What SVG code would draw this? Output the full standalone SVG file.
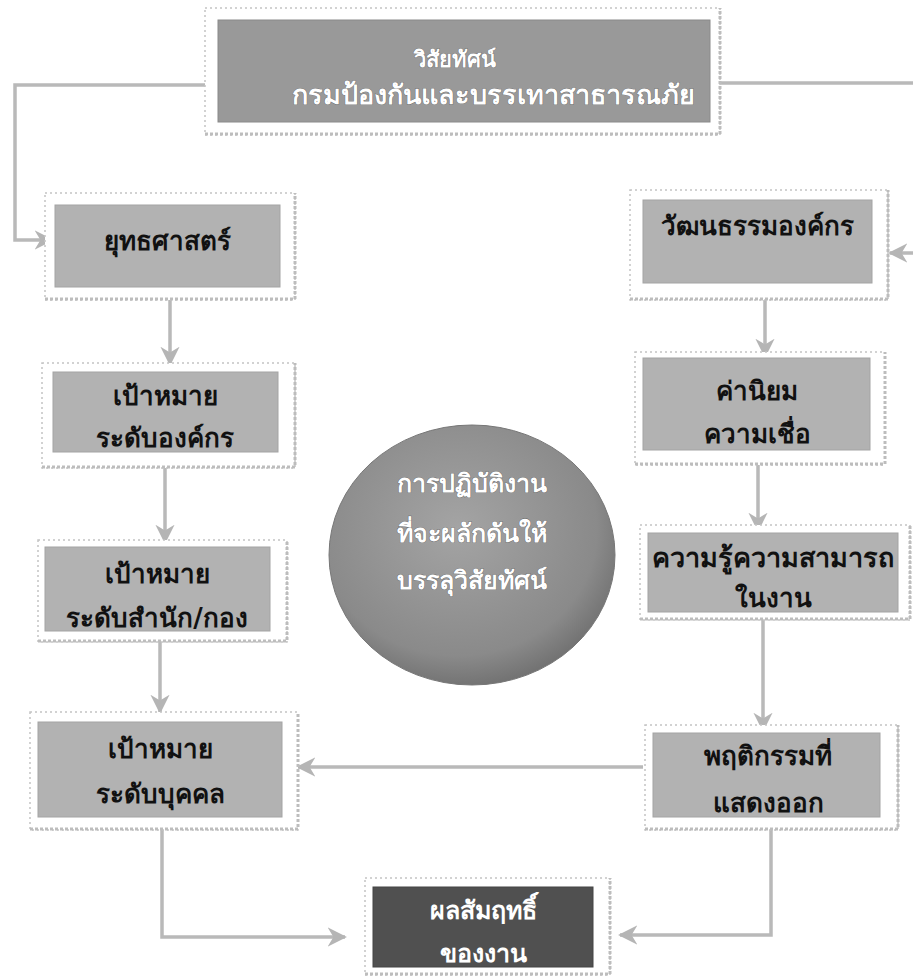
<svg xmlns="http://www.w3.org/2000/svg" width="913" height="980" viewBox="0 0 913 980">
<style>
.frame{fill:#ffffff;stroke:#c4c4c4;stroke-width:1.5;stroke-dasharray:2 3}
.shadow{fill:none;stroke:#bdbdbd;stroke-width:3;stroke-dasharray:3 2}
.box{fill:#b2b2b2;stroke:#a4a4a4;stroke-width:1}
.top{fill:#999999;stroke:#8a8a8a;stroke-width:1}
.dark{fill:#505050;stroke:#444;stroke-width:1}
.t{font-family:"DejaVu Sans","Noto Sans",sans-serif;font-size:26px;font-weight:bold;fill:#111;text-anchor:middle}
.w{font-family:"DejaVu Sans","Noto Sans",sans-serif;font-size:25px;font-weight:bold;fill:#ffffff;text-anchor:middle;stroke:#555;stroke-width:0.6;paint-order:stroke}
.c{fill:none;stroke:#b9b9b9;stroke-width:3.5}
</style>
<defs>
<marker id="ah" viewBox="0 0 10 10" refX="9" refY="5" markerWidth="5.5" markerHeight="5.5" orient="auto" markerUnits="strokeWidth">
<path d="M0,0 L10,5 L0,10 L3,5 Z" fill="#b5b5b5"/>
</marker>
<radialGradient id="cg" cx="0.45" cy="0.4" r="0.65">
<stop offset="0" stop-color="#a4a4a4"/>
<stop offset="0.75" stop-color="#8a8a8a"/>
<stop offset="1" stop-color="#6a6a6a"/>
</radialGradient>
</defs>

<g id="connectors">
<path class="c" d="M205,85 H15 V240 H52" marker-end="url(#ah)"/>
<path class="c" d="M720,83 H913"/>
<path class="c" d="M913,253 H890" marker-end="url(#ah)"/>
<path class="c" d="M170,300 V364" marker-end="url(#ah)"/>
<path class="c" d="M165,468 V542" marker-end="url(#ah)"/>
<path class="c" d="M160,642 V712" marker-end="url(#ah)"/>
<path class="c" d="M765,300 V356" marker-end="url(#ah)"/>
<path class="c" d="M758,465 V530" marker-end="url(#ah)"/>
<path class="c" d="M763,620 V730" marker-end="url(#ah)"/>
<path class="c" d="M643,767 H298" marker-end="url(#ah)"/>
<path class="c" d="M162,830 V937 H345" marker-end="url(#ah)"/>
<path class="c" d="M771,830 V935 H620" marker-end="url(#ah)"/>
</g>

<g id="vision">
<rect class="frame" x="205" y="8" width="515" height="127"/>
<path class="shadow" d="M205,134 H720 V8"/>
<rect class="top" x="218" y="20" width="492" height="102"/>
<text class="w" x="455" y="67" style="font-size:22px">วิสัยทัศน์</text>
<text class="w" x="493" y="104" style="font-size:27px">กรมป้องกันและบรรเทาสาธารณภัย</text>
</g>

<g id="strategy">
<rect class="frame" x="45" y="193" width="250" height="107"/>
<path class="shadow" d="M45,299 H295 V193"/>
<rect class="box" x="55" y="205" width="225" height="82"/>
<text class="t" x="167" y="250">ยุทธศาสตร์</text>
</g>

<g id="goal-org">
<rect class="frame" x="42" y="363" width="253" height="105"/>
<path class="shadow" d="M42,467 H295 V363"/>
<rect class="box" x="53" y="372" width="225" height="80"/>
<text class="t" x="165" y="405">เป้าหมาย</text>
<text class="t" x="165" y="447">ระดับองค์กร</text>
</g>

<g id="goal-division">
<rect class="frame" x="38" y="540" width="249" height="102"/>
<path class="shadow" d="M38,641 H287 V540"/>
<rect class="box" x="45" y="547" width="225" height="84"/>
<text class="t" x="157" y="583">เป้าหมาย</text>
<text class="t" x="157" y="627">ระดับสำนัก/กอง</text>
</g>

<g id="goal-individual">
<rect class="frame" x="30" y="712" width="268" height="118"/>
<path class="shadow" d="M30,829 H298 V712"/>
<rect class="box" x="38" y="722" width="244" height="95"/>
<text class="t" x="160" y="758">เป้าหมาย</text>
<text class="t" x="160" y="803">ระดับบุคคล</text>
</g>

<g id="culture">
<rect class="frame" x="630" y="190" width="258" height="110"/>
<path class="shadow" d="M630,299 H888 V190"/>
<rect class="box" x="643" y="200" width="229" height="83"/>
<text class="t" x="757" y="235">วัฒนธรรมองค์กร</text>
</g>

<g id="values">
<rect class="frame" x="635" y="352" width="250" height="113"/>
<path class="shadow" d="M635,464 H885 V352"/>
<rect class="box" x="643" y="358" width="227" height="92"/>
<text class="t" x="757" y="400">ค่านิยม</text>
<text class="t" x="757" y="443">ความเชื่อ</text>
</g>

<g id="knowledge">
<rect class="frame" x="640" y="525" width="270" height="95"/>
<path class="shadow" d="M640,619 H910 V525"/>
<rect class="box" x="648" y="533" width="250" height="79"/>
<text class="t" x="773" y="567" style="font-size:27px">ความรู้ความสามารถ</text>
<text class="t" x="773" y="607">ในงาน</text>
</g>

<g id="behavior">
<rect class="frame" x="645" y="725" width="253" height="105"/>
<path class="shadow" d="M645,829 H898 V725"/>
<rect class="box" x="653" y="733" width="227" height="84"/>
<text class="t" x="768" y="765">พฤติกรรมที่</text>
<text class="t" x="768" y="812">แสดงออก</text>
</g>

<g id="result">
<rect class="frame" x="365" y="878" width="245" height="97"/>
<path class="shadow" d="M365,974 H610 V878"/>
<rect class="dark" x="373" y="887" width="220" height="80"/>
<text class="w" x="483" y="919">ผลสัมฤทธิ์</text>
<text class="w" x="483" y="962">ของงาน</text>
</g>

<g id="performance">
<ellipse cx="472" cy="555" rx="143" ry="130" fill="url(#cg)" stroke="#777" stroke-width="1"/>
<text class="w" x="472" y="492">การปฏิบัติงาน</text>
<text class="w" x="472" y="542">ที่จะผลักดันให้</text>
<text class="w" x="472" y="589">บรรลุวิสัยทัศน์</text>
</g>
</svg>
